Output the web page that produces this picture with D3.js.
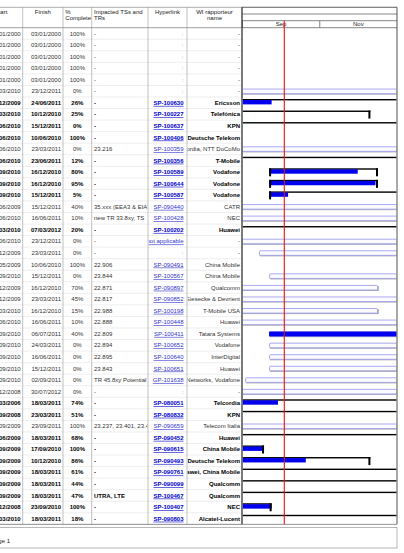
<!DOCTYPE html>
<html><head><meta charset="utf-8">
<script src="https://cdn.jsdelivr.net/npm/d3@7"></script>
<style>body{margin:0;background:#fff}svg{display:block;font-family:"Liberation Sans",Arial,sans-serif}</style>
</head><body><svg id="c" width="404" height="553"></svg>
<script>
// ---------- DATA ----------
const columnHeaders = [["Start"],["Finish"],["%","Complete"],["Impacted TSs and","TRs"],["Hyperlink"],["WI rapporteur","name"]];
const startDates = ["03/01/2000","03/01/2000","03/01/2000","03/01/2000","03/01/2000","01/03/2010","01/12/2009","01/03/2010","01/06/2010","01/06/2010",
 "01/06/2010","01/06/2010","22/09/2010","22/09/2010","22/09/2010","01/06/2009","01/06/2010","01/03/2010","01/06/2010","01/12/2009",
 "01/05/2009","22/09/2010","01/12/2009","01/12/2009","01/03/2010","01/06/2010","22/09/2010","22/09/2010","22/09/2010","22/09/2010",
 "03/09/2010","01/12/2008","01/03/2006","01/09/2008","01/09/2009","01/06/2009","01/09/2009","01/09/2009","01/09/2009","01/09/2009",
 "01/09/2009","01/12/2008","01/03/2010"];
const finishDates = ["03/01/2000","03/01/2000","03/01/2000","03/01/2000","03/01/2000","23/12/2011","24/06/2011","10/12/2010","15/12/2011","10/06/2010",
 "23/03/2011","23/06/2011","16/12/2010","16/12/2010","15/12/2011","15/12/2011","16/06/2011","07/03/2012","23/12/2011","23/03/2011",
 "10/06/2010","15/12/2011","16/12/2010","23/03/2011","16/12/2010","16/06/2011","06/07/2011","24/03/2011","16/06/2011","15/12/2011",
 "02/09/2011","30/07/2012","18/03/2011","23/03/2011","23/09/2011","18/03/2011","17/09/2010","10/12/2010","18/03/2011","18/03/2011",
 "18/03/2011","23/09/2010","18/03/2011"];
const pctComplete = [100,100,100,100,100,0,26,25,0,100, 0,12,80,95,5,40,10,20,0,0, 100,0,70,45,15,10,40,0,0,0, 0,0,74,51,100,68,100,86,61,44, 47,100,18];
const impactedSpecs = ["-","-","-","-","-","-","-","-","-","-", "23.216","-","-","-","-","35.xxx (EEA3 & EIA","new TR 33.8xy, TS","-","-","-",
 "22.906","23.844","22.871","22.817","22.988","22.888","22.809","22.894","22.895","23.843",
 "TR 45.8xy Potential","-","-","-","23.237, 23.401, 23.4","-","-","-","-","-", "UTRA, LTE","-","-"];
const hyperlinks = [":",":",":",":",":",":","SP-100630","SP-100227","SP-100637","SP-100406",
 "SP-100359","SP-100356","SP-100589","SP-100644","SP-100587","SP-090440","SP-100428","SP-100202","not applicable",":",
 "SP-090491","SP-100567","SP-090897","SP-090852","SP-100198","SP-100448","SP-100411","SP-100652","SP-100640","SP-100651",
 "GP-101638",":","SP-080051","SP-080832","SP-090659","SP-090452","SP-090615","SP-090493","SP-090761","SP-090099",
 "SP-100467","SP-100407","SP-090803"];
const rapporteurs = ["-","-","-","-","-","-","Ericsson","Telefónica","KPN","Deutsche Telekom",
 "ordia, NTT DoCoMo","T-Mobile","Vodafone","Vodafone","Vodafone","CATR","NEC","Huawei","-","-",
 "China Mobile","China Mobile","Qualcomm","Giesecke & Devrient","T-Mobile USA","Huawei","Tatara Systems","Vodafone","InterDigital","Huawei",
 "Networks, Vodafone","-","Telcordia","KPN","Telecom Italia","Huawei","China Mobile","Deutsche Telekom","awei, China Mobile","Qualcomm",
 "Qualcomm","NEC","Alcatel-Lucent"];
const isSummary = [0,0,0,0,0,0,1,1,1,1, 0,1,1,1,1,0,0,1,0,0, 0,0,0,0,0,0,0,0,0,0, 0,0,1,1,0,1,1,1,1,1, 1,1,1];
// bar start where the gantt bar differs from the start column
const barStartOverride = {19:"14/09/2010"};
// complete-through dates ("" = not within view)
const completeThrough = ["","","","","","","23/09/2010","","","", "","","30/11/2010","14/12/2010","06/10/2010","","","","","",
 "","","","","","","06/07/2011","","","", "","","28/09/2010","","","","17/09/2010","20/10/2010","","", "","23/09/2010",""];
const timeTickDates = ["01/09/2010","01/11/2010"];
const timeTickLabels = ["Sep","Nov"];
const viewRange = ["01/09/2010","01/01/2011"];
const statusDate = "04/10/2010";
const footerText = "Page 1";

// ---------- LAYOUT ----------
const svg = d3.select("#c");
const parse = d3.utcParse("%d/%m/%Y");
const dayMs = 864e5;
const fs = 6;
const cols = [[-20.7,22.7],[22.7,63],[63,91.7],[91.7,148],[148,187],[187,242]];
const gx0 = 242, gx1 = 397;
const headTop = 7.3, headBot = 27.7;
const n = startDates.length;
const y = d3.scaleBand().domain(d3.range(n)).range([headBot, headBot + n*11.55]);
const tableBottom = headBot + n*11.55;
const x = d3.scaleUtc().domain(viewRange.map(parse)).range([gx0+0.5, gx1]);

const defs = svg.append("defs");
cols.forEach((c,i)=>{
  defs.append("clipPath").attr("id","cc"+i).append("rect").attr("x",c[0]+0.5).attr("y",0).attr("width",c[1]-c[0]-1).attr("height",553);
});
defs.append("clipPath").attr("id","gclip").append("rect").attr("x",gx0+0.8).attr("y",0).attr("width",gx1-gx0-1.3).attr("height",553);

// row separators
svg.append("g").selectAll("line").data(d3.range(n)).join("line")
  .attr("x1",0).attr("x2",gx0).attr("y1",i=>y(i)+y.bandwidth()).attr("y2",i=>y(i)+y.bandwidth())
  .attr("stroke","#e2e2e2").attr("stroke-width",0.6);

// header
const hg = svg.append("g").attr("font-size",fs).attr("fill","#222");
const hAnchor = ["middle","middle","start","start","middle","middle"];
columnHeaders.forEach((lines,i)=>{
  const c = cols[i];
  const xx = hAnchor[i]==="middle" ? (c[0]+c[1])/2 : c[0]+2.3;
  const t = hg.append("text").attr("clip-path",`url(#cc${i})`).attr("text-anchor",hAnchor[i]);
  lines.forEach((l,k)=> t.append("tspan").attr("x",xx).attr("y",13.6+k*6.3).text(l));
});

// cells
const rows = svg.append("g").attr("font-size",fs);
d3.range(n).forEach(i=>{
  const cy = y(i)+y.bandwidth()/2+2.1;
  const fw = isSummary[i] ? "bold" : "normal";
  const g = rows.append("g").attr("font-weight",fw).attr("fill", isSummary[i] ? "#000" : "#333");
  g.append("text").attr("x",cols[0][1]-2).attr("y",cy).attr("text-anchor","end").text(startDates[i].slice(3));
  g.append("text").attr("x",cols[1][1]-2).attr("y",cy).attr("text-anchor","end").text(finishDates[i]);
  g.append("text").attr("x",(cols[2][0]+cols[2][1])/2).attr("y",cy).attr("text-anchor","middle").text(pctComplete[i]+"%");
  g.append("text").attr("clip-path","url(#cc3)").attr("x",cols[3][0]+2.3).attr("y",cy).text(impactedSpecs[i]);
  const isLink = hyperlinks[i] !== ":";
  g.append("text").attr("clip-path","url(#cc4)").attr("x",cols[4][1]-3.5).attr("y",cy).attr("text-anchor","end")
    .attr("fill", isLink ? (isSummary[i] ? "#0000cc" : "#3333cc") : "#888")
    .attr("text-decoration", isLink ? "underline" : null).text(hyperlinks[i]);
  g.append("text").attr("clip-path","url(#cc5)").attr("x",cols[5][1]-2).attr("y",cy).attr("text-anchor","end").text(rapporteurs[i]);
});

// column lines
svg.append("g").selectAll("line").data(cols.map(c=>c[1]).slice(0,5)).join("line")
  .attr("x1",d=>d).attr("x2",d=>d).attr("y1",headTop).attr("y2",tableBottom)
  .attr("stroke","#a8a8a8").attr("stroke-width",0.7);
svg.append("line").attr("x1",0).attr("x2",gx1).attr("y1",headTop).attr("y2",headTop).attr("stroke","#888").attr("stroke-width",0.7);
svg.append("line").attr("x1",0).attr("x2",gx0).attr("y1",headBot).attr("y2",headBot).attr("stroke","#888").attr("stroke-width",0.8);

// gantt header tiers
const gh = svg.append("g");
[headTop,14,20.7,headBot].forEach(v=> gh.append("line").attr("x1",gx0).attr("x2",gx1).attr("y1",v).attr("y2",v).attr("stroke","#666").attr("stroke-width",0.8));
const tks = timeTickDates.map(parse);
gh.selectAll("line.tk").data(tks).join("line").attr("class","tk")
  .attr("x1",d=>x(d)).attr("x2",d=>x(d)).attr("y1",20.7).attr("y2",headBot).attr("stroke","#666").attr("stroke-width",0.8);
const tkEnds = tks.slice(1).concat([x.domain()[1]]);
gh.selectAll("text").data(tks).join("text")
  .attr("x",(d,i)=>(x(d)+x(tkEnds[i]))/2).attr("y",26.2).attr("text-anchor","middle")
  .attr("font-size",fs).attr("fill","#222").text((d,i)=>timeTickLabels[i]);

// gantt bars
const gb = svg.append("g").attr("clip-path","url(#gclip)");
d3.range(n).forEach(i=>{
  const s = parse(barStartOverride[i] || startDates[i]);
  const f = new Date(+parse(finishDates[i]) + dayMs);
  if (f <= x.domain()[0] || s >= x.domain()[1]) return;
  const t = y(i);
  const xs = x(s), xf = x(f);
  const ct = completeThrough[i] ? new Date(+parse(completeThrough[i]) + dayMs) : null;
  if (isSummary[i]) {
    gb.append("rect").attr("x",xs).attr("y",t+2).attr("width",xf-xs).attr("height",1.4).attr("fill","#000");
    if (ct) gb.append("rect").attr("x",xs).attr("y",t+3).attr("width",x(ct)-xs).attr("height",4.4).attr("fill","#0000ee");
    [xs, xf-2].forEach(v=> gb.append("rect").attr("x",v).attr("y",t+2).attr("width",2).attr("height",8).attr("fill","#000"));
  } else {
    gb.append("rect").attr("x",xs+0.8).attr("y",t+4.2).attr("width",xf-xs).attr("height",5).attr("fill","#a9a9a9");
    gb.append("rect").attr("x",xs+0.5).attr("y",t+3.6).attr("width",xf-xs-1).attr("height",4.6).attr("rx",0.8)
      .attr("fill","#fbfbff").attr("stroke","#a0a0ee").attr("stroke-width",0.9);
    if (ct) gb.append("rect").attr("x",xs).attr("y",t+3.6).attr("width",x(ct)-xs).attr("height",4.8).attr("fill","#0000ee");
  }
});

// gantt borders
svg.append("line").attr("x1",gx0).attr("x2",gx0).attr("y1",headTop).attr("y2",tableBottom).attr("stroke","#333").attr("stroke-width",1.3);
svg.append("line").attr("x1",gx1).attr("x2",gx1).attr("y1",headTop).attr("y2",tableBottom).attr("stroke","#555").attr("stroke-width",1);

// status line
svg.append("line").attr("x1",x(parse(statusDate))).attr("x2",x(parse(statusDate)))
  .attr("y1",20.7).attr("y2",tableBottom).attr("stroke","#ee1111").attr("stroke-width",1.1);

// bottom / footer
svg.append("line").attr("x1",0).attr("x2",gx1).attr("y1",tableBottom).attr("y2",tableBottom).attr("stroke","#777").attr("stroke-width",0.8);
svg.append("rect").attr("x",-2).attr("y",tableBottom+3).attr("width",gx1+2).attr("height",553-tableBottom-8).attr("fill","none").attr("stroke","#999").attr("stroke-width",0.7);
svg.append("text").attr("x",-9).attr("y",543).attr("font-size",fs).attr("fill","#222").text(footerText);
</script></body></html>
